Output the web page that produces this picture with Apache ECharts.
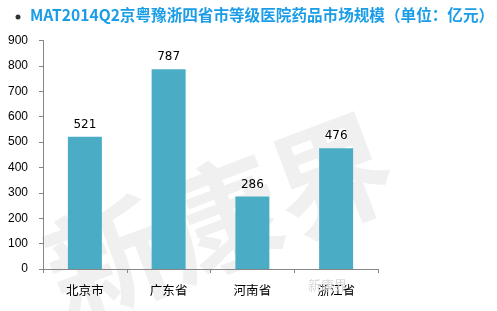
<!DOCTYPE html>
<html><head><meta charset="utf-8">
<script src="https://cdn.jsdelivr.net/npm/echarts@6/dist/echarts.min.js"></script>
<style>html,body{margin:0;padding:0;background:#fff}#c{width:497px;height:311px}</style>
</head><body><div id="c"></div>
<script>
const categories = ['北京市', '广东省', '河南省', '浙江省'];
const values = [521, 787, 286, 476];
const titleText = 'MAT2014Q2京粤豫浙四省市等级医院药品市场规模（单位：亿元）';

const chart = echarts.init(document.getElementById('c'), null, {renderer: 'canvas'});
chart.setOption({
  animation: false,
  grid: {left: 43, right: 119, top: 40.5, bottom: 42, containLabel: false},
  graphic: [
    {type: 'circle', shape: {cx: 18, cy: 17, r: 2.5}, style: {fill: '#333'}},
    {type: 'text', left: 30, top: 7, style: {text: titleText, fill: '#1a9de6', font: 'bold 15.6px "Noto Sans CJK SC", sans-serif'}},
    {type: 'text', x: 30, y: 225, rotation: 0.36, z: -10, style: {text: '新康界', fill: '#f0f0f0', font: 'bold 120px "Noto Sans CJK SC", sans-serif'}},
    {type: 'text', x: 308, y: 279, z: 10, style: {text: '新康界', fill: '#d8d8d8', font: '13px "Noto Sans CJK SC", sans-serif'}}
  ],
  xAxis: {
    type: 'category', data: categories,
    axisLine: {lineStyle: {color: '#868686'}},
    axisTick: {show: true, alignWithLabel: false, length: 4, lineStyle: {color: '#868686'}},
    axisLabel: {color: '#000', fontSize: 12.5, margin: 15, fontFamily: '"Noto Sans CJK SC", sans-serif'}
  },
  yAxis: {
    type: 'value', min: 0, max: 900, interval: 100,
    axisLine: {show: true, lineStyle: {color: '#868686'}},
    axisTick: {show: true, length: 4, lineStyle: {color: '#868686'}},
    splitLine: {show: false},
    axisLabel: {color: '#000', fontSize: 12, margin: 15, fontFamily: 'Liberation Sans, sans-serif'}
  },
  series: [{
    type: 'bar', data: values, barWidth: 34,
    itemStyle: {color: '#4bacc6'},
    label: {show: true, position: 'top', distance: 6, color: '#000', fontSize: 12, fontFamily: 'DejaVu Sans, sans-serif'}
  }]
});
</script></body></html>
